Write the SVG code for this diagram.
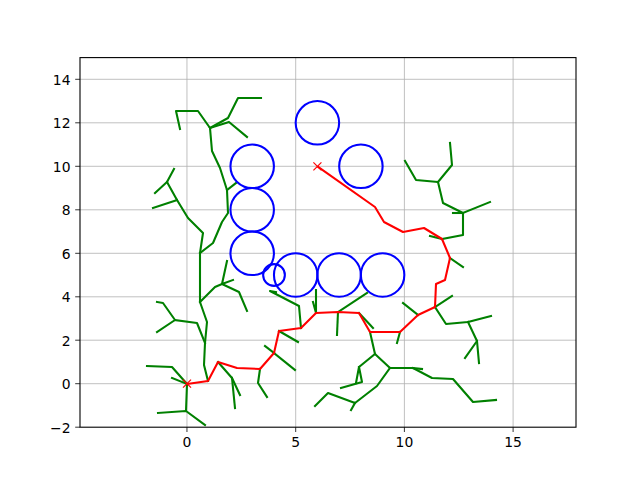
<svg xmlns="http://www.w3.org/2000/svg" width="640" height="480" viewBox="0 0 640 480">
<style>
.grid{stroke:#b0b0b0;stroke-width:0.8;fill:none}
.tk{stroke:#000;stroke-width:0.8}
.lbl{font-family:"DejaVu Sans",sans-serif;font-size:13.9px;fill:#000}
.tree polyline{stroke:#008000;stroke-width:2.08;fill:none;stroke-linejoin:round;stroke-linecap:square}
.obs circle{stroke:#0000ff;stroke-width:2.08;fill:none}
.path{stroke:#ff0000;stroke-width:2.08;fill:none;stroke-linejoin:round}
.mk{stroke:#ff0000;stroke-width:1.2}
</style>
<rect width="640" height="480" fill="#fff"/>
<g id="grid">
<line class="grid" x1="186.96" y1="57.6" x2="186.96" y2="427.2"/>
<line class="grid" x1="295.7" y1="57.6" x2="295.7" y2="427.2"/>
<line class="grid" x1="404.4" y1="57.6" x2="404.4" y2="427.2"/>
<line class="grid" x1="513.1" y1="57.6" x2="513.1" y2="427.2"/>
<line class="grid" x1="80" y1="383.7" x2="576" y2="383.7"/>
<line class="grid" x1="80" y1="340.2" x2="576" y2="340.2"/>
<line class="grid" x1="80" y1="296.8" x2="576" y2="296.8"/>
<line class="grid" x1="80" y1="253.3" x2="576" y2="253.3"/>
<line class="grid" x1="80" y1="209.8" x2="576" y2="209.8"/>
<line class="grid" x1="80" y1="166.3" x2="576" y2="166.3"/>
<line class="grid" x1="80" y1="122.8" x2="576" y2="122.8"/>
<line class="grid" x1="80" y1="79.3" x2="576" y2="79.3"/>
</g>
<g id="connectors" class="tree">
<polyline points="147,366 172,367 187,384"/>
<polyline points="172,378 187,384"/>
<polyline points="158,413 186,411 205,425"/>
<polyline points="187,384 186,411"/>
<polyline points="208,381 204,365 205,343 207,322 200,302 200,253 203,233 188,218 177,200 167,182 174,169"/>
<polyline points="155,193 167,182"/>
<polyline points="153,208 177,200"/>
<polyline points="200,253 213,243 222,222 228,213 227,190 220,168 212,151 210,128 198,111 176,111 180,129"/>
<polyline points="210,128 228,118 238,98 261,98"/>
<polyline points="210,128 229,122 247,137"/>
<polyline points="227,190 236,183"/>
<polyline points="157,302 163,303 175,320 157,332"/>
<polyline points="175,320 197,323 205,343"/>
<polyline points="200,302 215,287 222,284 239,292 247,311"/>
<polyline points="227,261 222,284 233,280"/>
<polyline points="218,362 232,378 240,395"/>
<polyline points="232,378 235,408"/>
<polyline points="260,369 258,383 267,397"/>
<polyline points="274,353 265,346"/>
<polyline points="274,353 295,370"/>
<polyline points="279,331 298,342"/>
<polyline points="276,292 270,291 299,306 301,328"/>
<polyline points="313,302 316,313 316,290"/>
<polyline points="338,312 337,335"/>
<polyline points="338,312 367,293"/>
<polyline points="359,313 373,328"/>
<polyline points="370,332 375,354 390,368 413,368 432,378 453,379 473,402 496,400"/>
<polyline points="413,368 422,369"/>
<polyline points="375,354 359,367 356,383"/>
<polyline points="359,367 362,382 341,388"/>
<polyline points="390,368 377,386 355,403 328,393 315,406"/>
<polyline points="355,403 351,410"/>
<polyline points="400,332 397,343"/>
<polyline points="418,315 403,303"/>
<polyline points="435,307 452,296"/>
<polyline points="435,307 446,324 468,322 491,316"/>
<polyline points="468,322 477,341 465,358"/>
<polyline points="477,341 479,363"/>
<polyline points="450,258 463,267"/>
<polyline points="442,239 463,235 463,213 443,203 438,182 416,180 405,161"/>
<polyline points="438,182 452,165 450,143"/>
<polyline points="463,213 490,202"/>
<polyline points="453,213 463,213"/>
<polyline points="430,236 442,239"/>
</g>
<g id="obstacles" class="obs">
<circle cx="252.2" cy="166.3" r="21.74"/>
<circle cx="252.2" cy="209.8" r="21.74"/>
<circle cx="252.2" cy="253.3" r="21.74"/>
<circle cx="317.4" cy="122.8" r="21.74"/>
<circle cx="360.9" cy="166.3" r="21.74"/>
<circle cx="295.7" cy="275" r="21.74"/>
<circle cx="339.1" cy="275" r="21.74"/>
<circle cx="382.6" cy="275" r="21.74"/>
<circle cx="274" cy="275" r="10.87"/>
</g>
<g id="path">
<polyline class="path" points="187,384 208,381 218,362 237,368 260,369 274,353 279,331 301,328 316,313 338,312 359,313 370,332 400,332 418,315 435,307 436,284 445,280 450,258 442,239 424,228 403,232 384,222 375,207 317.4,166.3"/>
</g>
<g id="start">
<line class="mk" x1="183" y1="379.7" x2="191" y2="387.7"/><line class="mk" x1="183" y1="387.7" x2="191" y2="379.7"/>
</g>
<g id="goal">
<line class="mk" x1="313.4" y1="162.3" x2="321.4" y2="170.3"/><line class="mk" x1="313.4" y1="170.3" x2="321.4" y2="162.3"/>
</g>
<g id="axes">
<rect x="80" y="57.6" width="496" height="369.6" fill="none" stroke="#000" stroke-width="1.1"/>
<line class="tk" x1="186.96" y1="427.2" x2="186.96" y2="432"/>
<line class="tk" x1="295.7" y1="427.2" x2="295.7" y2="432"/>
<line class="tk" x1="404.4" y1="427.2" x2="404.4" y2="432"/>
<line class="tk" x1="513.1" y1="427.2" x2="513.1" y2="432"/>
<line class="tk" x1="75.2" y1="427.2" x2="80" y2="427.2"/>
<line class="tk" x1="75.2" y1="383.7" x2="80" y2="383.7"/>
<line class="tk" x1="75.2" y1="340.2" x2="80" y2="340.2"/>
<line class="tk" x1="75.2" y1="296.8" x2="80" y2="296.8"/>
<line class="tk" x1="75.2" y1="253.3" x2="80" y2="253.3"/>
<line class="tk" x1="75.2" y1="209.8" x2="80" y2="209.8"/>
<line class="tk" x1="75.2" y1="166.3" x2="80" y2="166.3"/>
<line class="tk" x1="75.2" y1="122.8" x2="80" y2="122.8"/>
<line class="tk" x1="75.2" y1="79.3" x2="80" y2="79.3"/>
<g class="lbl" text-anchor="middle">
<text x="186.96" y="447">0</text>
<text x="295.7" y="447">5</text>
<text x="404.4" y="447">10</text>
<text x="513.1" y="447">15</text>
</g>
<g class="lbl" text-anchor="end">
<text x="70.5" y="432.5">−2</text>
<text x="70.5" y="389">0</text>
<text x="70.5" y="345.5">2</text>
<text x="70.5" y="302">4</text>
<text x="70.5" y="258.5">6</text>
<text x="70.5" y="215">8</text>
<text x="70.5" y="171.5">10</text>
<text x="70.5" y="128">12</text>
<text x="70.5" y="84.5">14</text>
</g>
</g>
</svg>
